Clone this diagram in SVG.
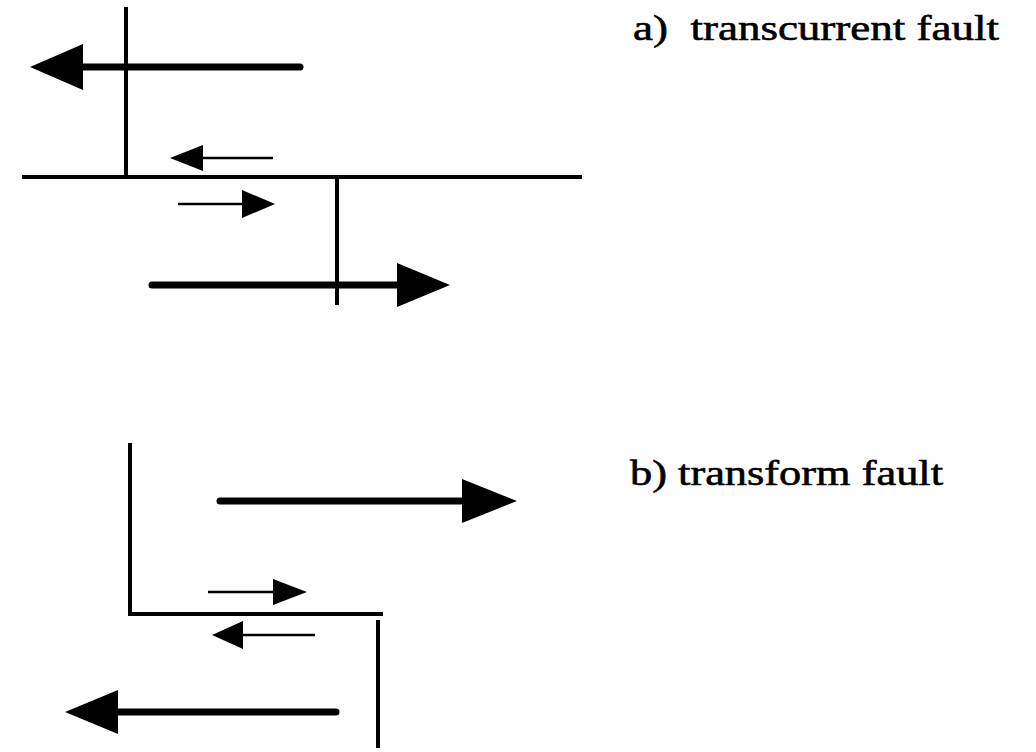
<svg xmlns="http://www.w3.org/2000/svg" width="1036" height="752" viewBox="0 0 1036 752">
<style>
.fault{stroke:#000;stroke-width:4;fill:none}
.big{stroke:#000;stroke-width:7;stroke-linecap:round;fill:none}
.small{stroke:#000;stroke-width:2.5;fill:none}
.head{fill:#000}
.lbl{font-family:"Liberation Serif","DejaVu Serif",serif;font-size:36px;fill:#000;stroke:#000;stroke-width:0.6}
</style>
<rect width="1036" height="752" fill="#fff"/>
<g id="faults">
<g id="fault-a">
<line class="fault" x1="126" y1="7" x2="126" y2="177"/>
<line class="fault" x1="22" y1="177" x2="582" y2="177"/>
<line class="fault" x1="337" y1="177" x2="337" y2="305"/>
</g>
<g id="fault-b">
<line class="fault" x1="130" y1="443" x2="130" y2="614"/>
<line class="fault" x1="128" y1="614" x2="383" y2="614"/>
<line class="fault" x1="378" y1="620" x2="378" y2="748"/>
</g>
</g>
<g id="connectors">
<g id="a-big-left"><line class="big" x1="300" y1="67" x2="80" y2="67"/><polygon class="head" points="30,67 83,44 83,90"/></g>
<g id="a-small-left"><line class="small" x1="273" y1="158" x2="200" y2="158"/><polygon class="head" points="170,158 203,145 203,171"/></g>
<g id="a-small-right"><line class="small" x1="178" y1="204" x2="245" y2="204"/><polygon class="head" points="275,204 242,190 242,218"/></g>
<g id="a-big-right"><line class="big" x1="152" y1="285" x2="400" y2="285"/><polygon class="head" points="450,285 397,263 397,307"/></g>
<g id="b-big-right"><line class="big" x1="220" y1="501" x2="465" y2="501"/><polygon class="head" points="517,501 462,479 462,523"/></g>
<g id="b-small-right"><line class="small" x1="208" y1="592" x2="276" y2="592"/><polygon class="head" points="307,592 273,579 273,605"/></g>
<g id="b-small-left"><line class="small" x1="315" y1="635" x2="240" y2="635"/><polygon class="head" points="212,635 243,621 243,649"/></g>
<g id="b-big-left"><line class="big" x1="336" y1="712" x2="115" y2="712"/><polygon class="head" points="65,712 118,690 118,734"/></g>
</g>
<g id="labels">
<text class="lbl" x="633" y="40" textLength="366" lengthAdjust="spacingAndGlyphs" xml:space="preserve">a)  transcurrent fault</text>
<text class="lbl" x="630" y="485" textLength="313" lengthAdjust="spacingAndGlyphs">b) transform fault</text>
</g>
</svg>
